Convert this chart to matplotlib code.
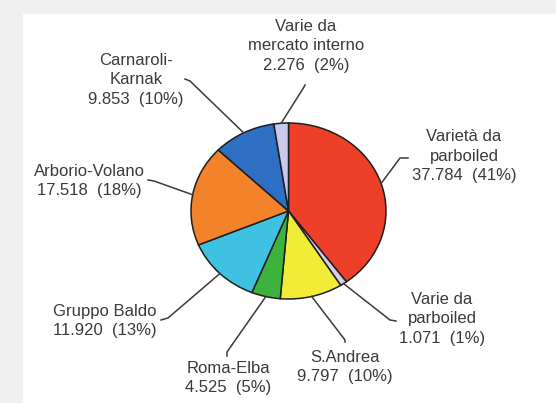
"""
Pie chart of rice varieties (Italian rice market), recreated with matplotlib.
"""
import numpy as np
from matplotlib import pyplot as plt
from matplotlib.lines import Line2D
from matplotlib.patches import Rectangle

# data
categories = ['Varietà da\nparboiled', 'Varie da\nparboiled', 'S.Andrea', 'Roma-Elba',
              'Gruppo Baldo', 'Arborio-Volano', 'Carnaroli-\nKarnak',
              'Varie da\nmercato interno']
values = [37.784, 1.071, 9.797, 4.525, 11.920, 17.518, 9.853, 2.276]
percents = [41, 1, 10, 5, 13, 18, 10, 2]
colors = ['#ee4029', '#d9cde6', '#f1ec38', '#3db33d', '#3fc1e2', '#f2832a',
          '#2c6fc3', '#c9c9ec']

# layout, in pixels of the 556x403 picture
W, H = 556, 403
cx, cy, rx, ry = 288.5, 211, 97.5, 88
text_pos = [(464, 156), (442, 319), (345, 367), (228, 378),
            (105, 321), (89, 181), (136, 80), (306, 46)]
elbows = [(400, 158), (390, 320), (345, 340), (227, 352),
          (168, 318), (154, 181), (190, 81), (304, 87)]
ends = [(408, 158), (396, 321), (345, 342), (227, 356),
        (161, 320), (148, 180), (185, 79), (305, 85)]


def px(x, y):
    return x / W, 1 - y / H


fig = plt.figure(figsize=(W / 100, H / 100), dpi=100)
fig.patch.set_facecolor('#efefef')
fig.add_artist(Rectangle(px(23, H), (W - 23) / W, (H - 14) / H,
                         transform=fig.transFigure, facecolor='white',
                         edgecolor='none', zorder=0))

left, bottom = px(cx - rx, cy + ry)
ax = fig.add_axes([left, bottom, 2 * rx / W, 2 * ry / H])
wedges, _ = ax.pie(values, colors=colors, startangle=90, counterclock=False,
                   wedgeprops=dict(edgecolor='#1e1e1e', linewidth=1.1))
ax.set_aspect('auto')
ax.set_xlim(-1, 1)
ax.set_ylim(-1, 1)
ax.axis('off')

for i, w in enumerate(wedges):
    mid = np.deg2rad((w.theta1 + w.theta2) / 2)
    sx, sy = cx + rx * np.cos(mid), cy - ry * np.sin(mid)
    xs = [sx, elbows[i][0], ends[i][0]]
    ys = [sy, elbows[i][1], ends[i][1]]
    pts = [px(a, b) for a, b in zip(xs, ys)]
    fig.add_artist(Line2D([p[0] for p in pts], [p[1] for p in pts],
                          transform=fig.transFigure, color='#3a3a3a', lw=1.1))
    label = '%s\n%.3f  (%d%%)' % (categories[i], values[i], percents[i])
    tx, ty = px(*text_pos[i])
    fig.text(tx, ty, label, ha='center', va='center', multialignment='center',
             fontsize=12, family='Liberation Sans', color='#3a3a3a',
             linespacing=1.4)

plt.savefig('out.png', dpi=100)
